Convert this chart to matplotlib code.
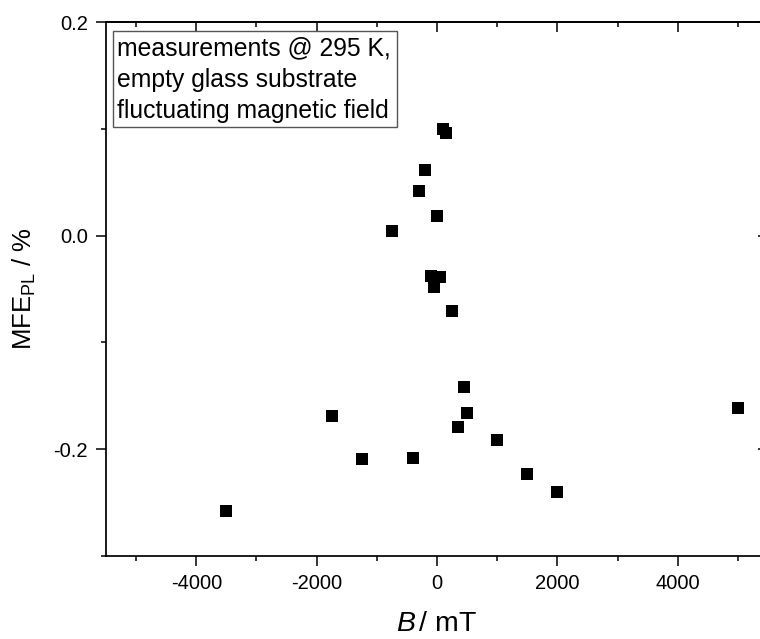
import matplotlib
matplotlib.use("Agg")
import matplotlib.pyplot as plt
from matplotlib.ticker import MultipleLocator, FormatStrFormatter
from matplotlib.patches import Rectangle

# ---- data ----
b_field_mT = [100, 150, -200, -300, 0, -750, -100, 50, -50, 250,
              450, -1750, 500, 5000, 350, 1000, -1250, -400, 1500, 2000, -3500]
mfe_pl = [0.100, 0.096, 0.061, 0.042, 0.018, 0.004, -0.038, -0.039, -0.048, -0.071,
          -0.142, -0.169, -0.166, -0.161, -0.179, -0.191, -0.209, -0.208, -0.223, -0.240, -0.258]

x_limits = (-5500, 5500)
y_limits = (-0.3, 0.2)
annotation_lines = ["measurements @ 295 K,", "empty glass substrate", "fluctuating magnetic field"]
x_label = r"$\mathit{B}\,$/ mT"
y_label = r"MFE$_\mathregular{PL}$ / %"

plt.rcParams["font.family"] = ["Liberation Sans", "DejaVu Sans"]
plt.rcParams["mathtext.fontset"] = "custom"
plt.rcParams["mathtext.rm"] = "Liberation Sans"
plt.rcParams["mathtext.it"] = "Liberation Sans:italic"
plt.rcParams["axes.unicode_minus"] = False

W, H = 760, 639
fig = plt.figure(figsize=(W / 100, H / 100), dpi=100)
ax_left, ax_right, ax_top, ax_bottom = 106, 768, 22, 556
ax = fig.add_axes([ax_left / W, 1 - ax_bottom / H, (ax_right - ax_left) / W, (ax_bottom - ax_top) / H])

ax.plot(b_field_mT, mfe_pl, linestyle="none", marker="s", markersize=8.6,
        color="black", markeredgewidth=0, clip_on=False)

ax.set_xlim(*x_limits)
ax.set_ylim(*y_limits)

ax.xaxis.set_major_locator(MultipleLocator(2000))
ax.xaxis.set_minor_locator(MultipleLocator(1000))
ax.yaxis.set_major_locator(MultipleLocator(0.2))
ax.yaxis.set_minor_locator(MultipleLocator(0.1))
ax.yaxis.set_major_formatter(FormatStrFormatter("%.1f"))

lw = 1.25
for s in ax.spines.values():
    s.set_linewidth(lw)
ax.spines["right"].set_visible(False)

ax.tick_params(which="major", direction="out", length=7.2, width=1.1, labelsize=14.5, pad=5.5)
ax.tick_params(which="minor", direction="out", length=3.6, width=1.1)
ax.tick_params(axis="y", which="major", pad=6)

# top / right inward ticks without labels
secx = ax.secondary_xaxis("top")
secx.xaxis.set_major_locator(MultipleLocator(2000))
secx.xaxis.set_minor_locator(MultipleLocator(1000))
secx.tick_params(which="major", direction="in", length=7.2, width=1.1, labeltop=False)
secx.tick_params(which="minor", direction="in", length=3.6, width=1.1)
secx.spines["top"].set_linewidth(lw)

secy = ax.secondary_yaxis("right")
secy.yaxis.set_major_locator(MultipleLocator(0.2))
secy.yaxis.set_minor_locator(MultipleLocator(0.1))
secy.tick_params(which="major", direction="in", length=7.2, width=1.1, labelright=False)
secy.tick_params(which="minor", direction="in", length=3.6, width=1.1)
secy.spines["right"].set_visible(False)

ax.set_xlabel(x_label, fontsize=20.5, labelpad=13)
ax.set_ylabel(y_label, fontsize=18.5, labelpad=11)

# annotation box
bx0, by0, bx1, by1 = 112.7, 30.7, 396.7, 127.3
fig.patches.append(Rectangle((bx0 / W, 1 - by1 / H), (bx1 - bx0) / W, (by1 - by0) / H,
                             transform=fig.transFigure, facecolor="white",
                             edgecolor="#555555", linewidth=1.0, zorder=5))
baselines = [55.7, 87.0, 118.3]
for line, yb in zip(annotation_lines, baselines):
    fig.text(117.3 / W, 1 - yb / H, line, fontsize=17.8, ha="left", va="baseline", zorder=6)

fig.savefig("out.png", dpi=100)
